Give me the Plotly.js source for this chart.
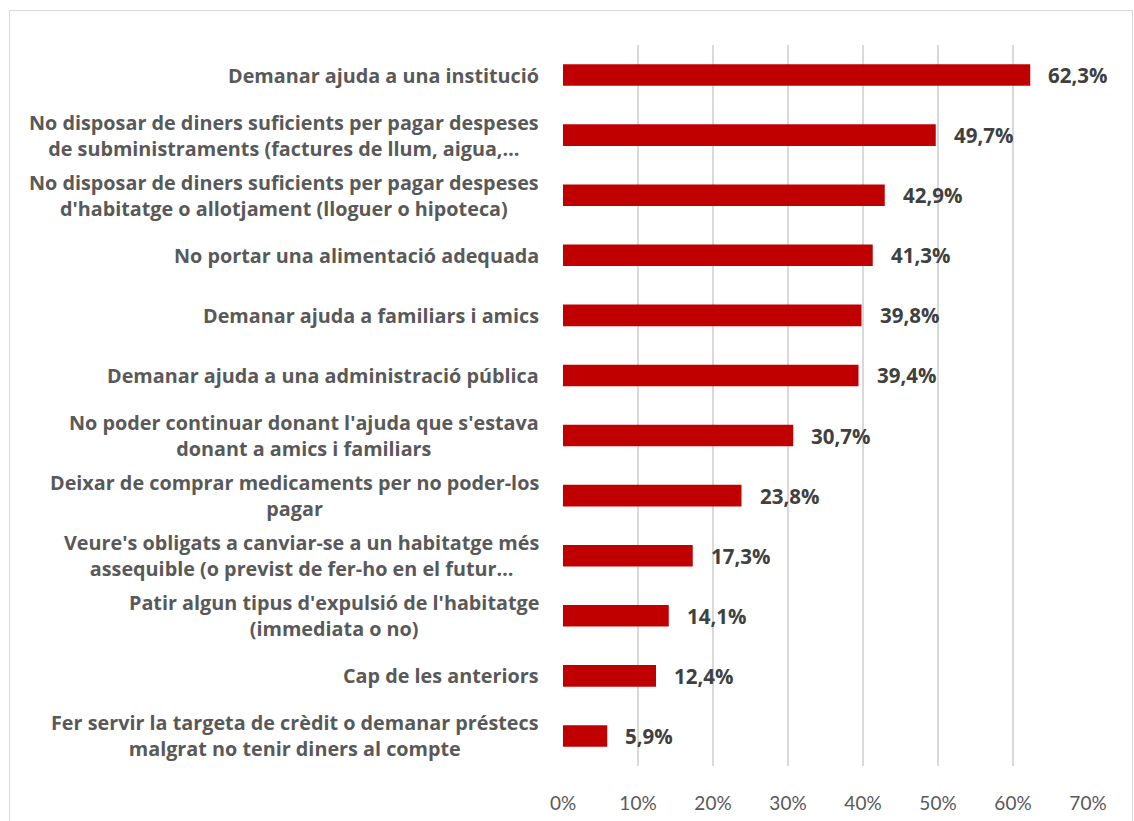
<!DOCTYPE html>
<html>
<head>
<meta charset="utf-8">
<script src="https://cdn.plot.ly/plotly-3.0.1.min.js"></script>
<style>
html,body{margin:0;padding:0;background:#fff;}
#wrap{position:relative;width:1134px;height:821px;overflow:hidden;}
#chart{width:1134px;height:821px;}
#frame{position:absolute;left:9px;top:10px;width:1124px;height:840px;border:1px solid #d9d9d9;box-sizing:border-box;pointer-events:none;}
</style>
</head>
<body>
<div id="wrap"><div id="chart"></div><div id="frame"></div></div>
<script>
const categories = [
  "Demanar ajuda a una institució",
  "No disposar de diners suficients per pagar despeses<br>de subministraments (factures de llum, aigua,…",
  "No disposar de diners suficients per pagar despeses<br>d'habitatge o allotjament (lloguer o hipoteca)",
  "No portar una alimentació adequada",
  "Demanar ajuda a familiars i amics",
  "Demanar ajuda a una administració pública",
  "No poder continuar donant l'ajuda que s'estava<br>donant a amics i familiars",
  "Deixar de comprar medicaments per no poder-los<br>pagar",
  "Veure's obligats a canviar-se a un habitatge més<br>assequible (o previst de fer-ho en el futur…",
  "Patir algun tipus d'expulsió de l'habitatge<br>(immediata o no)",
  "Cap de les anteriors",
  "Fer servir la targeta de crèdit o demanar préstecs<br>malgrat no tenir diners al compte"
];
const values = [62.3, 49.7, 42.9, 41.3, 39.8, 39.4, 30.7, 23.8, 17.3, 14.1, 12.4, 5.9];
const valueLabels = ["62,3%", "49,7%", "42,9%", "41,3%", "39,8%", "39,4%", "30,7%", "23,8%", "17,3%", "14,1%", "12,4%", "5,9%"];
const tickVals = [0, 10, 20, 30, 40, 50, 60, 70];
const tickText = ["0%", "10%", "20%", "30%", "40%", "50%", "60%", "70%"];

const LABEL_FONT = "'Open Sans', Lato, sans-serif";
const TICK_FONT = "Lato, 'Open Sans', sans-serif";

const trace = {
  type: "bar",
  orientation: "h",
  x: values,
  y: categories,
  width: 0.36,
  marker: {color: "#C00000"},
  hoverinfo: "none"
};

const annotations = [];
categories.forEach((c, i) => {
  annotations.push({
    xref: "paper", yref: "y", x: 0, y: c,
    xanchor: "right", yanchor: "middle", xshift: -22,
    align: "center", showarrow: false, text: "<b>" + c + "</b>",
    font: {family: LABEL_FONT, size: 19.8, color: "#595959"}
  });
  annotations.push({
    xref: "x", yref: "y", x: values[i], y: c,
    xanchor: "left", yanchor: "middle", xshift: 16,
    showarrow: false, text: "<b>" + valueLabels[i] + "</b>",
    font: {family: LABEL_FONT, size: 20.5, color: "#404040"}
  });
});

const layout = {
  width: 1134, height: 821,
  margin: {l: 563, r: 46, t: 45, b: 55, pad: 0},
  paper_bgcolor: "#ffffff", plot_bgcolor: "#ffffff",
  showlegend: false,
  font: {family: TICK_FONT, color: "#595959"},
  xaxis: {
    range: [0, 70], tickvals: tickVals, ticktext: tickText,
    showgrid: true, gridcolor: "#d9d9d9", gridwidth: 1.5,
    zeroline: false, showline: false,
    ticks: "outside", ticklen: 20, tickcolor: "rgba(0,0,0,0)",
    tickfont: {family: TICK_FONT, size: 19, color: "#595959"},
    fixedrange: true
  },
  yaxis: {
    type: "category", autorange: "reversed",
    showticklabels: false, showgrid: false, zeroline: false, showline: false,
    fixedrange: true
  },
  annotations: annotations
};

Plotly.newPlot("chart", [trace], layout, {displayModeBar: false, staticPlot: true});
</script>
</body>
</html>
